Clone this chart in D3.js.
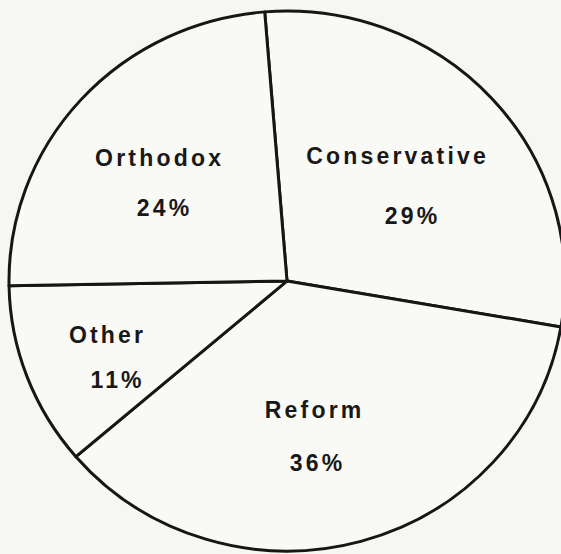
<!DOCTYPE html>
<html>
<head>
	<title>Pie</title>
	<script type="text/javascript" src="https://cdnjs.cloudflare.com/ajax/libs/d3/7.8.5/d3.min.js"></script>
	<style>
		body { margin: 0; background: #f6f6f3; }
	</style>
</head>
<body>
<svg id="chart" width="561" height="554"></svg>
<script type="text/javascript">
	var categories = ["Conservative", "Reform", "Other", "Orthodox"];
	var values = [29, 36, 11, 24];
	var pctLabels = ["29%", "36%", "11%", "24%"];

	// label anchor points (name line, percent line below it)
	var namePos = [[396, 164], [313, 418], [106, 343], [158, 166]];
	var pctPos = [[411, 224], [316, 471], [116, 388], [163, 216]];

	var svg = d3.select("#chart");
	var cx = 287, cy = 281, rx = 278, ry = 270;
	var ls = 3.2;

	svg.append("rect").attr("width", 561).attr("height", 554).attr("fill", "#f6f6f3");

	var pie = d3.pie().sort(null)
		.startAngle(-4.6 * Math.PI / 180)
		.endAngle(355.4 * Math.PI / 180);
	var arc = d3.arc().innerRadius(0).outerRadius(rx);

	var g = svg.append("g")
		.attr("transform", "translate(" + cx + "," + cy + ") scale(1," + (ry / rx) + ")");

	g.selectAll("path")
		.data(pie(values))
		.enter().append("path")
		.attr("d", arc)
		.attr("fill", "#f9f9f6")
		.attr("stroke", "#161616")
		.attr("stroke-width", 3)
		.attr("stroke-linejoin", "round");

	var labels = svg.append("g")
		.attr("font-family", "Liberation Sans, Arial, sans-serif")
		.attr("font-weight", "bold")
		.attr("font-size", 23)
		.attr("fill", "#181818")
		.attr("text-anchor", "middle")
		.style("letter-spacing", ls + "px");

	categories.forEach(function(c, i) {
		labels.append("text")
			.attr("x", namePos[i][0] + ls / 2)
			.attr("y", namePos[i][1])
			.text(c);
		labels.append("text")
			.attr("x", pctPos[i][0] + ls / 2)
			.attr("y", pctPos[i][1])
			.text(pctLabels[i]);
	});
</script>
</body>
</html>
